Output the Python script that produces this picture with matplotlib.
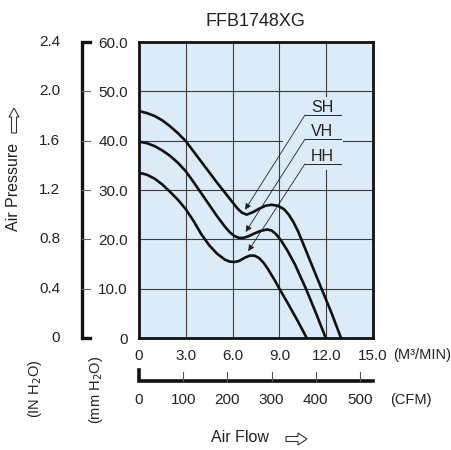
import numpy as np
import matplotlib
matplotlib.use("Agg")
import matplotlib.pyplot as plt
from matplotlib.patches import Rectangle, Polygon
from matplotlib.transforms import blended_transform_factory

plt.rcParams['font.family'] = ['Liberation Sans', 'DejaVu Sans']

# curves: airflow (m3/min) vs static pressure (mm H2O)
sh_x = [0, 0.5, 1, 1.5, 2, 2.5, 3, 3.5, 4, 4.5, 5, 5.5, 6, 6.3, 6.6, 6.9, 7.3,
        7.7, 8.1, 8.5, 8.9, 9.3, 9.6, 9.9, 10.2, 10.5, 11.0, 11.7, 12.35, 12.95]
sh_y = [46.0, 45.6, 45.0, 44.1, 42.9, 41.5, 39.9, 37.8, 35.7, 33.6, 31.5, 29.5,
        27.5, 26.3, 25.4, 25.0, 25.5, 26.2, 26.8, 27.0, 26.8, 26.1, 25.0, 23.5,
        21.6, 19.3, 15.4, 10.0, 5.0, 0.0]

vh_x = [0, 0.5, 1, 1.5, 2, 2.5, 3, 3.5, 4, 4.5, 5, 5.5, 5.8, 6.1, 6.4, 6.7,
        7.0, 7.4, 7.8, 8.2, 8.5, 8.8, 9.1, 9.5, 10.0, 10.7, 11.35, 11.97]
vh_y = [39.8, 39.5, 38.9, 38.0, 36.9, 35.5, 33.8, 31.6, 29.3, 27.0, 24.7, 22.6,
        21.5, 20.7, 20.3, 20.3, 20.6, 21.2, 21.7, 22.0, 21.8, 21.0, 19.8, 17.8,
        14.9, 10.0, 5.0, 0.0]

hh_x = [0, 0.5, 1, 1.5, 2, 2.5, 3, 3.5, 4, 4.5, 5, 5.5, 5.8, 6.1, 6.4, 6.8,
        7.1, 7.4, 7.7, 8.0, 8.3, 8.7, 9.0, 9.6, 10.2, 10.75]
hh_y = [33.5, 33.1, 32.3, 31.1, 29.6, 28.0, 26.1, 23.7, 21.0, 18.8, 17.1, 15.9,
        15.5, 15.4, 15.6, 16.3, 16.7, 16.7, 16.2, 15.2, 13.8, 11.7, 10.0, 6.7,
        3.3, 0.0]

flow_ticks = [0, 3, 6, 9, 12, 15]
flow_labels = ["0", "3.0", "6.0", "9.0", "12.0", "15.0"]
mm_ticks = [0, 10, 20, 30, 40, 50, 60]
mm_labels = ["0", "10.0", "20.0", "30.0", "40.0", "50.0", "60.0"]
inch_values = [0, 0.4, 0.8, 1.2, 1.6, 2.0, 2.4]
inch_labels = ["0", "0.4", "0.8", "1.2", "1.6", "2.0", "2.4"]
cfm_values = [0, 100, 200, 300, 400, 500]

labels = ["SH", "VH", "HH"]
label_y = [45.2, 40.3, 35.3]
arrow_tips = [(6.8, 26.0), (6.84, 21.5), (7.0, 17.6)]

CFM_TO_M3MIN = 0.0283168
MM_PER_IN = 25.0
TXT = "#222222"
W, H = 451, 450


def px(x, y):
    return (x / W, 1 - y / H)


def hollow_arrow(fig, pts):
    poly = Polygon([px(*p) for p in pts], closed=True, transform=fig.transFigure,
                   facecolor="white", edgecolor="#333333", lw=0.8)
    fig.patches.append(poly)


fig = plt.figure(figsize=(4.51, 4.5), dpi=100)
ax = fig.add_axes([139 / W, 1 - 338 / H, 234 / W, 296 / H])
ax.set_facecolor("#dcebf8")
ax.set_xlim(0, 15)
ax.set_ylim(0, 60)

for v in [3, 6, 9, 12]:
    ax.axvline(v, color="#3c3c3c", lw=0.8, zorder=1)
for v in [10, 20, 30, 40, 50]:
    ax.axhline(v, color="#3c3c3c", lw=0.8, zorder=1)

# patch hiding the grid behind the curve labels
ax.add_patch(Rectangle((9.23, 34.1), 3.85, 14.8, facecolor="#dcebf8",
                       edgecolor="none", zorder=1.5))

for xs, ys in [(sh_x, sh_y), (vh_x, vh_y), (hh_x, hh_y)]:
    ax.plot(xs, ys, color="#111111", lw=1.9, solid_joinstyle="round",
            solid_capstyle="butt", zorder=3)

for name, ly, tip in zip(labels, label_y, arrow_tips):
    ax.plot([10.64, 12.95], [ly, ly], color="#222222", lw=0.7, zorder=4)
    ax.text(11.75, ly + 0.6, name, ha="center", va="baseline", fontsize=11.5,
            color=TXT, zorder=4)
    ax.annotate("", xy=tip, xytext=(10.64, ly),
                arrowprops=dict(arrowstyle="-|>", color="#222222", lw=0.6,
                                mutation_scale=9, shrinkA=0, shrinkB=0),
                zorder=4)

for s in ax.spines.values():
    s.set_linewidth(2.0)
    s.set_color("#111111")

ax.set_xticks(flow_ticks)
ax.set_xticklabels(flow_labels, fontsize=11, color=TXT)
ax.set_yticks(mm_ticks)
ax.set_yticklabels(mm_labels, fontsize=11, color=TXT)
ax.tick_params(axis="both", length=0)
ax.tick_params(axis="x", pad=8)
ax.tick_params(axis="y", pad=8)

# left pressure bar (mm H2O) and inch labels
ty = blended_transform_factory(ax.transAxes, ax.transData)
ax.plot([-0.2094, -0.2457, -0.2457, -0.2094], [60, 60, 0, 0], color="#111111",
        lw=2.4, transform=ty, clip_on=False, solid_joinstyle="miter")
for v in [10, 20, 30, 40, 50]:
    ax.plot([-0.2457, -0.2094], [v, v], color="#666666", lw=0.8,
            transform=ty, clip_on=False)
for v, lab in zip(inch_values, inch_labels):
    ax.text(-0.3376, v * MM_PER_IN, lab, ha="right", va="center", fontsize=11,
            color=TXT, transform=ty)

# bottom CFM bar
tx = blended_transform_factory(ax.transData, ax.transAxes)
ax.plot([0, 0, 15], [-0.108, -0.1436, -0.1436], color="#111111", lw=2.6,
        transform=tx, clip_on=False, solid_joinstyle="miter")
for c in cfm_values[1:]:
    ax.plot([c * CFM_TO_M3MIN] * 2, [-0.1436, -0.115], color="#555555", lw=0.8,
            transform=tx, clip_on=False)
for c in cfm_values:
    ax.text(c * CFM_TO_M3MIN, -0.2095, str(c), ha="center", va="center",
            fontsize=11, color=TXT, transform=tx)

fig.text(*px(393, 355), "(M³/MIN)", ha="left", va="center",
         fontsize=10.5, color=TXT)
fig.text(*px(411, 400), "(CFM)", ha="center", va="center",
         fontsize=10.5, color=TXT)
fig.text(*px(255, 22), "FFB1748XG", ha="center", va="center",
         fontsize=13, color=TXT)
fig.text(*px(240, 437), "Air Flow", ha="center", va="center",
         fontsize=11.5, color=TXT)
fig.text(*px(14, 187), "Air Pressure", ha="center", va="center",
         rotation=90, fontsize=11.5, color=TXT)
fig.text(*px(35, 389), "(IN H$_2$O)", ha="center", va="center",
         rotation=90, fontsize=10.5, color=TXT)
fig.text(*px(96, 390), "(mm H$_2$O)", ha="center", va="center",
         rotation=90, fontsize=10.5, color=TXT)

hollow_arrow(fig, [(286, 436.5), (298, 436.5), (298, 433), (307, 439),
                   (298, 445), (298, 441.5), (286, 441.5)])
hollow_arrow(fig, [(11.5, 133), (11.5, 117), (9, 117), (14, 108),
                   (19, 117), (16.5, 117), (16.5, 133)])

fig.savefig("out.png", dpi=100)
